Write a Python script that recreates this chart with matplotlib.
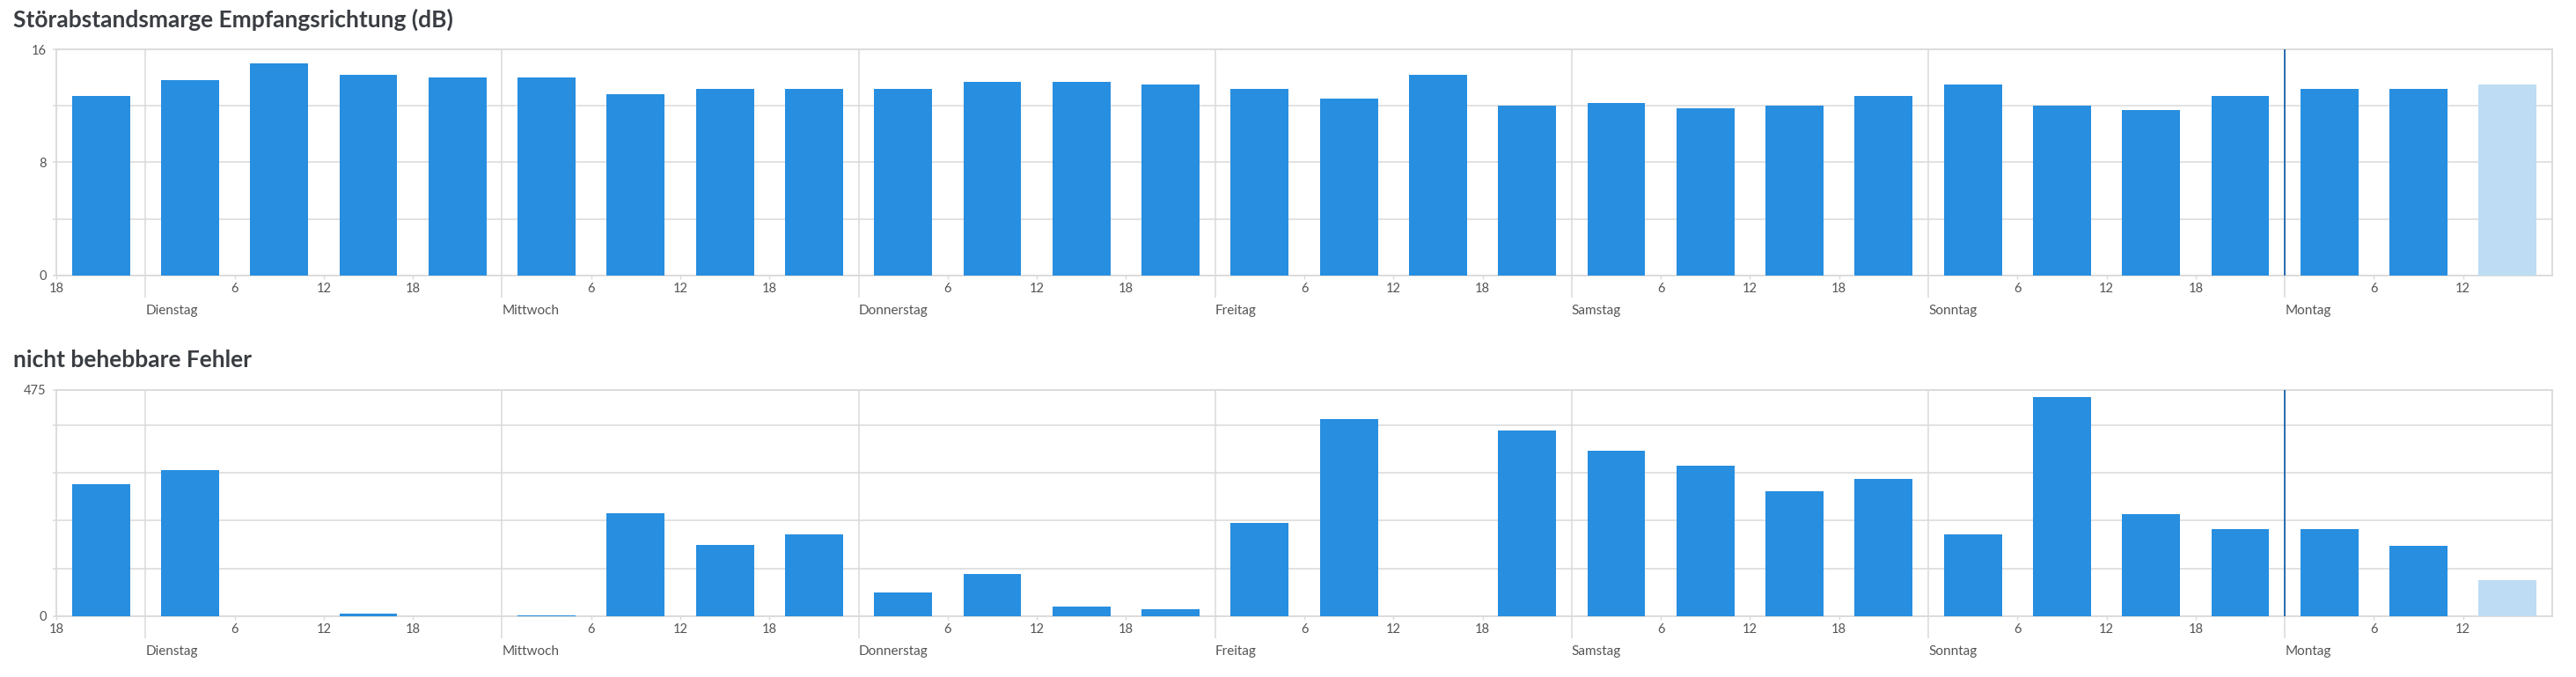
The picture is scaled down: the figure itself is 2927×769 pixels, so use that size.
import numpy as np
import matplotlib
matplotlib.use("Agg")
import matplotlib.pyplot as plt

# 6-hour slots, starting Monday 18:00
start_hour = 18
slot_hours = 6
day_names = ["Dienstag", "Mittwoch", "Donnerstag", "Freitag", "Samstag", "Sonntag", "Montag"]

# Störabstandsmarge Empfangsrichtung (dB)
snr = [12.7, 13.8, 15.0, 14.2, 14.0, 14.0, 12.8, 13.2, 13.2, 13.2, 13.7, 13.7, 13.5, 13.2,
       12.5, 14.2, 12.0, 12.2, 11.8, 12.0, 12.7, 13.5, 12.0, 11.7, 12.7, 13.2, 13.2, 13.5]

# nicht behebbare Fehler
errors = [277, 307, 0, 5.5, 0, 1, 215, 150, 172, 50, 89, 20, 15, 196,
          414, 0, 389, 347, 316, 262, 288, 171, 460, 213, 182, 182, 148, 75]

W, H = 2927, 769
plt.rcParams['font.family'] = ['Lato', 'DejaVu Sans']

blue = "#278ee0"
light_blue = "#bedcf3"
grid_col = "#dadada"
text_col = "#555555"
title_col = "#3a3d42"

fig = plt.figure(figsize=(W / 100, H / 100), dpi=100)

n = len(snr)
total_h = n * slot_hours  # one week, Mon 18:00 -> Mon 18:00
x = np.arange(n) * slot_hours + slot_hours / 2
first_day = 24 - start_hour
day_pos = [first_day + 24 * k for k in range(len(day_names))]
hour_pos = [h for h in range(0, total_h, slot_hours) if h not in day_pos]
hour_lab = [str((start_hour + h) % 24) for h in hour_pos]
now_pos = day_pos[-1]


def draw(ax, values, ymax, yticks, ylabels):
    colors = [blue] * (len(values) - 1) + [light_blue]
    ax.bar(x, values, width=slot_hours * 0.65, color=colors, zorder=3)
    ax.set_xlim(0, total_h)
    ax.set_ylim(0, ymax)
    ax.set_yticks(yticks)
    ax.set_yticklabels(ylabels)
    ax.set_xticks(hour_pos)
    ax.set_xticklabels(hour_lab)
    ax.set_xticks(day_pos, minor=True)
    ax.set_xticklabels(day_names, minor=True)
    for lab in ax.get_xticklabels(minor=True):
        lab.set_horizontalalignment("left")
    ax.tick_params(axis="x", which="major", length=3, width=1, color=grid_col,
                   labelsize=10.5, labelcolor=text_col, pad=3)
    ax.tick_params(axis="x", which="minor", length=18, width=1.1, color=grid_col,
                   labelsize=11, labelcolor=text_col, pad=6)
    ax.tick_params(axis="y", length=3, width=1.1, color=grid_col,
                   labelsize=10.5, labelcolor=text_col, pad=5)
    ax.grid(axis="y", color=grid_col, lw=1.1, zorder=0)
    for p in day_pos:
        ax.axvline(p, color=grid_col, lw=1.1, zorder=1)
    ax.axvline(now_pos, color="#1a62ad", lw=1.3, zorder=4)
    for s in ax.spines.values():
        s.set_color(grid_col)
        s.set_linewidth(1.3)
        s.set_zorder(2)


ax1 = fig.add_axes([64 / W, 1 - 312.7 / H, (2900 - 64) / W, (312.7 - 56) / H])
draw(ax1, snr, 16, [0, 4, 8, 12, 16], ["0", "", "8", "", "16"])

ax2 = fig.add_axes([64 / W, 1 - 699.7 / H, (2900 - 64) / W, (699.7 - 442.7) / H])
draw(ax2, errors, 475, [0, 100, 200, 300, 400, 475], ["0", "", "", "", "", "475"])

fig.text(15 / W, 1 - 31 / H, "Störabstandsmarge Empfangsrichtung (dB)", fontsize=19,
         fontweight="bold", color=title_col, va="baseline")
fig.text(15 / W, 1 - 417 / H, "nicht behebbare Fehler", fontsize=19,
         fontweight="bold", color=title_col, va="baseline")

fig.savefig("out.png", dpi=100)
